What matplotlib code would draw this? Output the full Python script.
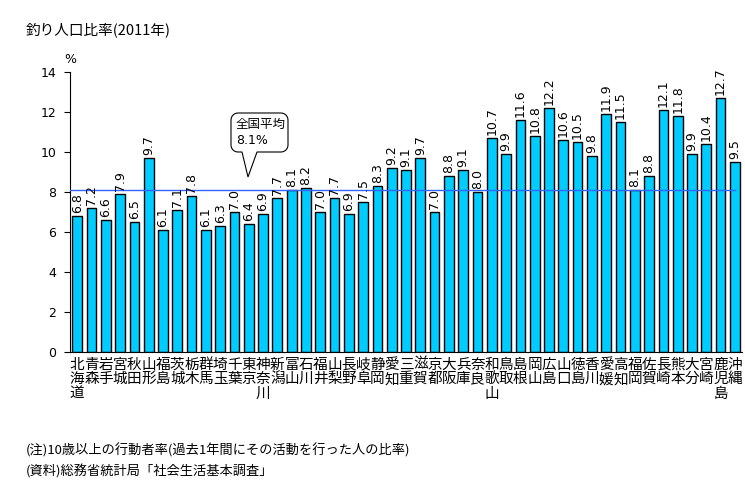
import numpy as np
import matplotlib
matplotlib.use("Agg")
import matplotlib.pyplot as plt
from matplotlib.patches import Polygon
from matplotlib.transforms import IdentityTransform

plt.rcParams['font.family'] = ['Noto Sans CJK JP', 'DejaVu Sans']

# prefectures and fishing population ratio (%)
prefs = ["北海道", "青森", "岩手", "宮城", "秋田", "山形", "福島", "茨城", "栃木", "群馬",
         "埼玉", "千葉", "東京", "神奈川", "新潟", "富山", "石川", "福井", "山梨", "長野",
         "岐阜", "静岡", "愛知", "三重", "滋賀", "京都", "大阪", "兵庫", "奈良", "和歌山",
         "鳥取", "島根", "岡山", "広島", "山口", "徳島", "香川", "愛媛", "高知", "福岡",
         "佐賀", "長崎", "熊本", "大分", "宮崎", "鹿児島", "沖縄"]
values = [6.8, 7.2, 6.6, 7.9, 6.5, 9.7, 6.1, 7.1, 7.8, 6.1,
          6.3, 7.0, 6.4, 6.9, 7.7, 8.1, 8.2, 7.0, 7.7, 6.9,
          7.5, 8.3, 9.2, 9.1, 9.7, 7.0, 8.8, 9.1, 8.0, 10.7,
          9.9, 11.6, 10.8, 12.2, 10.6, 10.5, 9.8, 11.9, 11.5, 8.1,
          8.8, 12.1, 11.8, 9.9, 10.4, 12.7, 9.5]
national_avg = 8.1
yticks = [0, 2, 4, 6, 8, 10, 12, 14]

W, H = 745, 496
fig = plt.figure(figsize=(W / 100, H / 100), dpi=100)
ax = fig.add_axes([0.094, 0.290, 0.902, 0.565])

x = np.arange(len(prefs))
ax.bar(x, values, width=0.68, color="#00CCFF", edgecolor="black", linewidth=1.0, zorder=2)
ax.plot([-0.5, len(prefs) - 1], [national_avg, national_avg], color="#3366FF", lw=1.0, zorder=3)

for xi, v in zip(x, values):
    ax.text(xi, v + 0.15, f"{v:.1f}", rotation=90, ha="center", va="bottom",
            fontsize=9, family="DejaVu Sans")

ax.set_xlim(-0.5, len(prefs) - 0.5)
ax.set_ylim(0, 14)
ax.set_yticks(yticks)
ax.set_yticklabels([str(t) for t in yticks], fontsize=9, family="DejaVu Sans")
ax.tick_params(axis="y", direction="out", length=4, pad=6)
ax.set_xticks(x)
ax.set_xticklabels(["\n".join(p) for p in prefs], fontsize=10.5, va="top",
                   linespacing=1.05)
ax.tick_params(axis="x", length=0, pad=4)
for s in ["top", "right"]:
    ax.spines[s].set_visible(False)

ax.text(-0.5, 14.3, "%", ha="center", va="bottom", fontsize=9, family="DejaVu Sans")


# speech-bubble callout drawn in pixel space (origin bottom-left)
def bubble(x0, y0, x1, y1, r, t0, t1, tip):
    pts = [(t1, y0), tip, (t0, y0)]
    corners = [(x0 + r, y0 + r, 270, 180), (x0 + r, y1 - r, 180, 90),
               (x1 - r, y1 - r, 90, 0), (x1 - r, y0 + r, 0, -90)]
    for cx, cy, a0, a1 in corners:
        for a in np.linspace(np.radians(a0), np.radians(a1), 8):
            pts.append((cx + r * np.cos(a), cy + r * np.sin(a)))
    return pts


pts = bubble(231, H - 152, 288, H - 113, 7, 242, 257, (248, H - 177))
fig.add_artist(Polygon(pts, closed=True, facecolor="white", edgecolor="black",
                       lw=0.8, transform=IdentityTransform(), zorder=10))
fig.text(236 / W, 1 - 124 / H, "全国平均", ha="left", va="center", fontsize=9, zorder=11)
fig.text(236 / W, 1 - 140 / H, "8.1%", ha="left", va="center", fontsize=9, zorder=11,
         family="DejaVu Sans")

fig.text(0.034, 0.94, "釣り人口比率(2011年)", fontsize=10.5, va="center")
fig.text(0.034, 0.091, "(注)10歳以上の行動者率(過去1年間にその活動を行った人の比率)", fontsize=9.5, va="center")
fig.text(0.034, 0.050, "(資料)総務省統計局「社会生活基本調査」", fontsize=9.5, va="center")

fig.savefig("out.png", dpi=100)
